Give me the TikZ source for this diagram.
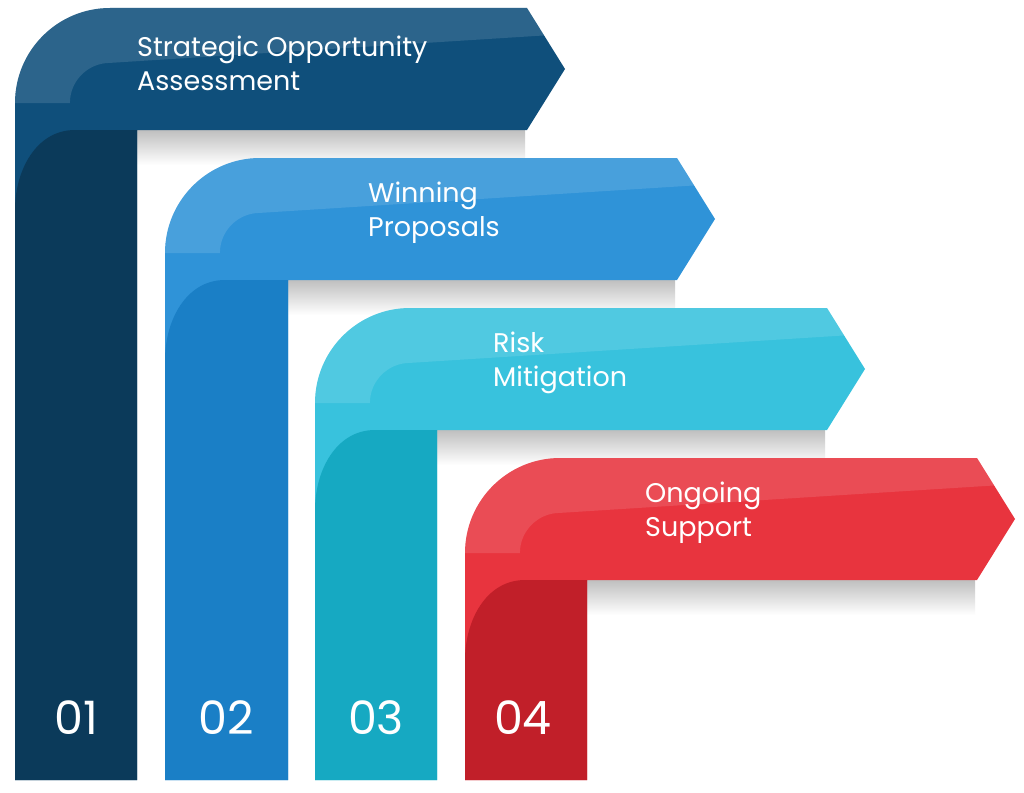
\documentclass[tikz,border=0pt]{standalone}
\usepackage{fontspec}
\setmainfont{Poppins}
\definecolor{c1}{HTML}{0F4F7B}\definecolor{d1}{HTML}{0B3A5A}
\definecolor{c2}{HTML}{2F93D8}\definecolor{d2}{HTML}{1A7FC6}
\definecolor{c3}{HTML}{38C2DD}\definecolor{d3}{HTML}{16A9C2}
\definecolor{c4}{HTML}{E8343E}\definecolor{d4}{HTML}{C11F29}
\begin{document}
\begin{tikzpicture}[x=1pt,y=-1pt,
  lbl/.style={text=white,font=\fontsize{27}{34}\selectfont,align=left,anchor=west,inner sep=0},
  num/.style={text=white,font=\fontsize{46}{46}\selectfont,inner sep=0}]
\useasboundingbox (0,0) rectangle (1024,792);
\fill[white] (0,0) rectangle (1024,792);
\newcommand{\stepshape}[8]{%
 \shade[top color=black!25,bottom color=white] (#2,#4) rectangle (#5-40,#4+35);
 \fill[#6] (#1,780) -- (#1,#3+95) arc[start angle=180,end angle=270,radius=95] -- (#5-38,#3) -- (#5,{(#3+#4)/2}) -- (#5-38,#4) -- (#2,#4) -- (#2,780) -- cycle;
 \fill[#8,opacity=0.12] (#1,#3+95) arc[start angle=180,end angle=270,radius=95] -- (#5-38,#3) -- ({#5-38+38*0.45},{#3+(#4-#3)*0.225}) -- ({#1+95},{#3+(#4-#3)*0.45}) arc[start angle=270,end angle=180,radius={95-(#4-#3)*0.45}] -- cycle;
 \fill[#7] (#1,#4+80) -- (#1,780) -- (#2,780) -- (#2,#4) -- ({#1+60},#4) to[out=180,in=90] (#1,#4+80) -- cycle;
}
\stepshape{15}{137}{8}{130}{565}{c1}{d1}{white}
\stepshape{165}{288}{158}{280}{715}{c2}{d2}{white}
\stepshape{315}{437}{308}{430}{865}{c3}{d3}{white}
\stepshape{465}{587}{458}{580}{1015}{c4}{d4}{white}
\node[lbl] (t1) at (137,63) {Strategic Opportunity\\Assessment};
\node[lbl] (t2) at (368,213) {Winning\\Proposals};
\node[lbl] (t3) at (493,363) {Risk\\Mitigation};
\node[lbl] (t4) at (645,513) {Ongoing\\Support};
\node[num] (n1) at (76,718) {01};
\node[num] (n2) at (226,718) {02};
\node[num] (n3) at (376,718) {03};
\node[num] (n4) at (523,718) {04};
\end{tikzpicture}
\end{document}
